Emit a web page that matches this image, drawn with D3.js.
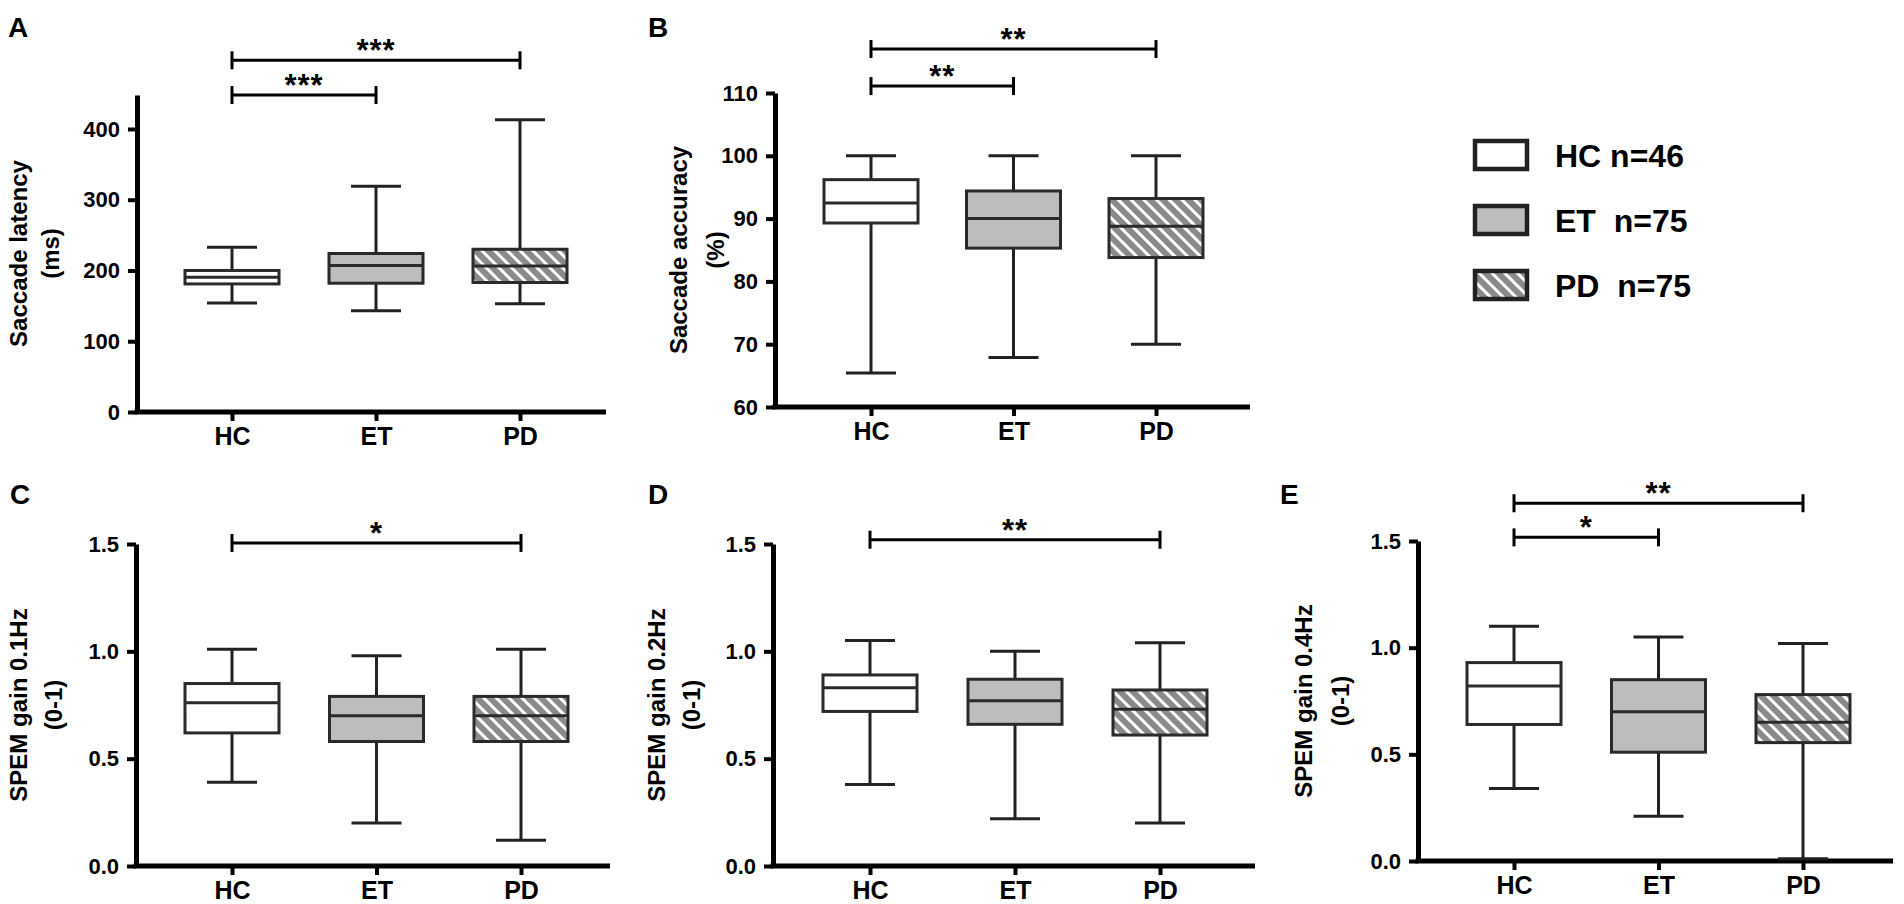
<!DOCTYPE html>
<html>
<head>
<meta charset="UTF-8">
<title>Saccade and SPEM box plots</title>
<style>
    body { margin: 0; background: #fff; }
    text { font-family: "Liberation Sans", Arial, sans-serif; font-weight: bold; fill: #000; }
    .axis path, .axis line { stroke: #000; }
    .axis path { stroke-width: 5px; }
    .axis line { stroke-width: 4px; }
    .box { stroke: #2a2a2a; stroke-width: 3px; }
    .whisker { stroke: #222; stroke-width: 3px; }
    .sig line { stroke: #000; stroke-width: 3px; }
</style>
</head>
<body>
<svg id="chart" width="1904" height="904"></svg>
<script src="https://cdn.jsdelivr.net/npm/d3@7"></script>
<script>
    // groups
    const groups = ['HC', 'ET', 'PD'];
    const legendLabels = ['HC n=46', 'ET  n=75', 'PD  n=75'];

    // [whisker low, q1, median, q3, whisker high] per group
    const latency = [[154, 181, 190.5, 200, 233], [143, 182, 207, 224, 319], [153, 183, 206.5, 230, 413]];
    const accuracy = [[65.4, 89.3, 92.5, 96.2, 100], [67.9, 85.3, 90, 94.4, 100], [70, 83.8, 88.8, 93.2, 100]];
    const gain01 = [[0.39, 0.62, 0.76, 0.85, 1.01], [0.20, 0.58, 0.70, 0.79, 0.98], [0.12, 0.58, 0.70, 0.79, 1.01]];
    const gain02 = [[0.38, 0.72, 0.83, 0.89, 1.05], [0.22, 0.66, 0.77, 0.87, 1.00], [0.20, 0.61, 0.73, 0.82, 1.04]];
    const gain04 = [[0.34, 0.64, 0.82, 0.93, 1.10], [0.21, 0.51, 0.70, 0.85, 1.05], [0.01, 0.555, 0.65, 0.78, 1.02]];

    // significance brackets: from, to, stars, level (data units)
    const sigA = [['HC', 'ET', '***', 448], ['HC', 'PD', '***', 497]];
    const sigB = [['HC', 'ET', '**', 111.1], ['HC', 'PD', '**', 117]];
    const sigC = [['HC', 'PD', '*', 1.505]];
    const sigD = [['HC', 'PD', '**', 1.52]];
    const sigE = [['HC', 'ET', '*', 1.517], ['HC', 'PD', '**', 1.677]];

    // tick values
    const ticksA = [0, 100, 200, 300, 400];
    const ticksB = [60, 70, 80, 90, 100, 110];
    const ticksSpem = [0, 0.5, 1.0, 1.5];

    const svg = d3.select('#chart');

    const defs = svg.append('defs');
    const hatch = defs.append('pattern')
        .attr('id', 'hatch')
        .attr('patternUnits', 'userSpaceOnUse')
        .attr('width', 9)
        .attr('height', 9)
        .attr('patternTransform', 'rotate(-45)');
    hatch.append('rect').attr('width', 9).attr('height', 9).attr('fill', '#8a8a8a');
    hatch.append('rect').attr('width', 3).attr('height', 9).attr('fill', '#fff');

    const fills = { HC: '#fff', ET: '#bdbdbd', PD: 'url(#hatch)' };

    const panels = [
        { letter: 'A', data: latency, sig: sigA, domain: [0, 448], ticks: ticksA, fmt: d3.format('d'),
          title: ['Saccade latency', '(ms)'],
          axisX: 137, endX: 606, top: 95, bottom: 412, cx: [232, 520],
          letterPos: [8, 37], titleX: [18, 50] },
        { letter: 'B', data: accuracy, sig: sigB, domain: [60, 110], ticks: ticksB, fmt: d3.format('d'),
          title: ['Saccade accuracy', '(%)'],
          axisX: 775, endX: 1250, top: 93, bottom: 407, cx: [871, 1156],
          letterPos: [648, 37], titleX: [678, 715] },
        { letter: 'C', data: gain01, sig: sigC, domain: [0, 1.5], ticks: ticksSpem, fmt: d3.format('.1f'),
          title: ['SPEM gain 0.1Hz', '(0-1)'],
          axisX: 136, endX: 610, top: 544, bottom: 866, cx: [232, 521],
          letterPos: [10, 504], titleX: [18, 53] },
        { letter: 'D', data: gain02, sig: sigD, domain: [0, 1.5], ticks: ticksSpem, fmt: d3.format('.1f'),
          title: ['SPEM gain 0.2Hz', '(0-1)'],
          axisX: 773, endX: 1255, top: 544, bottom: 866, cx: [870, 1160],
          letterPos: [648, 504], titleX: [656, 691] },
        { letter: 'E', data: gain04, sig: sigE, domain: [0, 1.5], ticks: ticksSpem, fmt: d3.format('.1f'),
          title: ['SPEM gain 0.4Hz', '(0-1)'],
          axisX: 1418, endX: 1893, top: 541, bottom: 861, cx: [1514, 1803],
          letterPos: [1280, 504], titleX: [1303, 1340] }
    ];

    const boxW = 94;
    const capW = 50;

    panels.forEach(drawPanel);

    function drawPanel(p) {
        const g = svg.append('g');

        const x = d3.scalePoint().domain(groups).range(p.cx);
        const y = d3.scaleLinear().domain(p.domain).range([p.bottom, p.top]);

        // y axis
        g.append('g')
            .attr('class', 'axis')
            .attr('transform', `translate(${p.axisX},0)`)
            .call(d3.axisLeft(y).tickValues(p.ticks).tickFormat(p.fmt).tickSize(9).tickSizeOuter(0).tickPadding(8))
            .call(a => a.selectAll('text').style('font-size', '22px'));

        // x axis
        g.append('line')
            .attr('x1', p.axisX - 2.5).attr('x2', p.endX)
            .attr('y1', p.bottom).attr('y2', p.bottom)
            .attr('stroke', '#000').attr('stroke-width', 5);

        g.append('g')
            .attr('class', 'axis')
            .attr('transform', `translate(0,${p.bottom})`)
            .call(d3.axisBottom(x).tickSize(9).tickSizeOuter(0))
            .call(a => a.select('.domain').remove())
            .call(a => a.selectAll('text').attr('y', 33).attr('dy', 0).style('font-size', '25px'));

        // boxes
        const box = g.selectAll('.grp')
            .data(p.data)
            .enter()
            .append('g')
            .attr('class', 'grp');

        box.append('line')
            .attr('class', 'whisker')
            .attr('x1', (d, i) => x(groups[i])).attr('x2', (d, i) => x(groups[i]))
            .attr('y1', d => y(d[4])).attr('y2', d => y(d[3]));
        box.append('line')
            .attr('class', 'whisker')
            .attr('x1', (d, i) => x(groups[i])).attr('x2', (d, i) => x(groups[i]))
            .attr('y1', d => y(d[1])).attr('y2', d => y(d[0]));
        [0, 4].forEach(k => {
            box.append('line')
                .attr('class', 'whisker')
                .attr('x1', (d, i) => x(groups[i]) - capW / 2).attr('x2', (d, i) => x(groups[i]) + capW / 2)
                .attr('y1', d => y(d[k])).attr('y2', d => y(d[k]));
        });
        box.append('rect')
            .attr('class', 'box')
            .attr('x', (d, i) => x(groups[i]) - boxW / 2)
            .attr('width', boxW)
            .attr('y', d => y(d[3]))
            .attr('height', d => y(d[1]) - y(d[3]))
            .attr('fill', (d, i) => fills[groups[i]]);
        box.append('line')
            .attr('class', 'box')
            .attr('x1', (d, i) => x(groups[i]) - boxW / 2).attr('x2', (d, i) => x(groups[i]) + boxW / 2)
            .attr('y1', d => y(d[2])).attr('y2', d => y(d[2]));

        // significance brackets
        const sig = g.selectAll('.sig')
            .data(p.sig)
            .enter()
            .append('g')
            .attr('class', 'sig');
        sig.append('line')
            .attr('x1', d => x(d[0])).attr('x2', d => x(d[1]))
            .attr('y1', d => y(d[3])).attr('y2', d => y(d[3]));
        [0, 1].forEach(k => {
            sig.append('line')
                .attr('x1', d => x(d[k])).attr('x2', d => x(d[k]))
                .attr('y1', d => y(d[3]) - 9).attr('y2', d => y(d[3]) + 9);
        });
        sig.append('text')
            .attr('x', d => (x(d[0]) + x(d[1])) / 2)
            .attr('y', d => y(d[3]) + 1)
            .attr('text-anchor', 'middle')
            .style('font-size', '31px')
            .style('letter-spacing', '1px')
            .text(d => d[2]);

        // panel letter
        g.append('text')
            .attr('x', p.letterPos[0]).attr('y', p.letterPos[1])
            .style('font-size', '28px')
            .text(p.letter);

        // y title
        const cy = (p.top + p.bottom) / 2;
        p.title.forEach((t, i) => {
            g.append('text')
                .attr('transform', `translate(${p.titleX[i]},${cy}) rotate(-90)`)
                .attr('text-anchor', 'middle')
                .attr('dy', '0.36em')
                .style('font-size', '24px')
                .text(t);
        });
    }

    // legend
    const legend = svg.append('g')
        .attr('transform', 'translate(1475,141)');
    const item = legend.selectAll('g')
        .data(groups)
        .enter()
        .append('g')
        .attr('transform', (d, i) => `translate(0,${i * 65})`);
    item.append('rect')
        .attr('width', 52).attr('height', 28)
        .attr('fill', d => fills[d])
        .attr('stroke', '#222').attr('stroke-width', 4.5);
    item.append('text')
        .attr('x', 80).attr('y', 26)
        .style('font-size', '32px')
        .style('white-space', 'pre')
        .text((d, i) => legendLabels[i]);
</script>
</body>
</html>
